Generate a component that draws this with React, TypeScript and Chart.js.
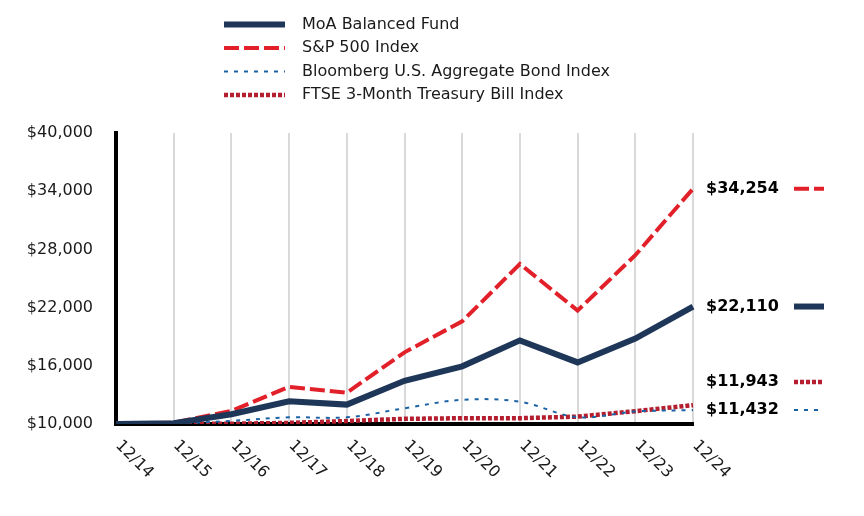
import React, { useEffect, useRef } from "react";
import { Chart, registerables } from "chart.js";

Chart.register(...registerables);

const categories = ["12/14", "12/15", "12/16", "12/17", "12/18", "12/19", "12/20", "12/21", "12/22", "12/23", "12/24"];
const moaFund = [10000, 10090, 11000, 12350, 12000, 14450, 15950, 18620, 16350, 18800, 22110];
const sp500 = [10000, 10138, 11351, 13829, 13223, 17387, 20586, 26496, 21698, 27402, 34254];
const bondIndex = [10000, 10055, 10321, 10687, 10688, 11620, 12492, 12300, 10700, 11292, 11432];
const tbillIndex = [10000, 10003, 10030, 10114, 10302, 10534, 10595, 10600, 10759, 11325, 11943];
const seriesNames = [
  "MoA Balanced Fund",
  "S&P 500 Index",
  "Bloomberg U.S. Aggregate Bond Index",
  "FTSE 3-Month Treasury Bill Index",
];
const yTicks = [10000, 16000, 22000, 28000, 34000, 40000];

const FONT = "'DejaVu Sans', Verdana, sans-serif";
const TEXT = "#1a1a1a";

const fmt = (v: number) => "$" + Math.round(v).toLocaleString("en-US");

function strokeSample(ctx: CanvasRenderingContext2D, ds: any, x1: number, x2: number, y: number) {
  ctx.save();
  ctx.strokeStyle = ds.borderColor;
  ctx.lineWidth = ds.borderWidth;
  ctx.setLineDash(ds.borderDash || []);
  ctx.lineCap = "butt";
  ctx.beginPath();
  ctx.moveTo(x1, y);
  ctx.lineTo(x2, y);
  ctx.stroke();
  ctx.restore();
}

const decorPlugin = {
  id: "decor",
  afterDraw(chart: any) {
    const ctx: CanvasRenderingContext2D = chart.ctx;
    const datasets = chart.data.datasets;
    // Legend
    const rowY = [24.5, 48, 71.5, 95];
    ctx.save();
    ctx.font = `16px ${FONT}`;
    ctx.fillStyle = TEXT;
    ctx.textBaseline = "middle";
    ctx.textAlign = "left";
    datasets.forEach((ds: any, i: number) => {
      strokeSample(ctx, ds, 224, 285, rowY[i]);
      ctx.fillText(ds.label, 302, rowY[i]);
    });
    ctx.restore();

    // X labels rotated clockwise
    const xs = chart.scales.x;
    ctx.save();
    ctx.font = `16px ${FONT}`;
    ctx.fillStyle = TEXT;
    ctx.textAlign = "left";
    ctx.textBaseline = "middle";
    categories.forEach((c, i) => {
      const x = xs.getPixelForValue(i);
      ctx.save();
      ctx.translate(x + 2, 443);
      ctx.rotate(Math.PI / 4);
      ctx.fillText(c, 0, 0);
      ctx.restore();
    });
    ctx.restore();

    // End value labels
    const ys = chart.scales.y;
    const items = datasets.map((ds: any) => {
      const v = ds.data[ds.data.length - 1];
      return { ds, v, y: ys.getPixelForValue(v) };
    });
    const sorted = [...items].sort((a, b) => b.y - a.y);
    for (let i = 1; i < sorted.length; i++) {
      if (sorted[i - 1].y - sorted[i].y < 28) sorted[i].y = sorted[i - 1].y - 28;
    }
    ctx.save();
    ctx.font = `bold 16px ${FONT}`;
    ctx.fillStyle = "#000";
    ctx.textAlign = "left";
    ctx.textBaseline = "middle";
    items.forEach((it: any) => {
      ctx.fillText(fmt(it.v), 706, it.y);
      strokeSample(ctx, it.ds, 794, 824, it.y);
    });
    ctx.restore();
  },
};

export default function App() {
  const ref = useRef<HTMLCanvasElement | null>(null);
  useEffect(() => {
    document.body.style.margin = "0";
    const chart = new Chart(ref.current as HTMLCanvasElement, {
      type: "line",
      data: {
        labels: categories,
        datasets: [
          {
            label: seriesNames[0],
            data: moaFund,
            borderColor: "#1e3658",
            borderWidth: 6,
            borderDash: [],
            pointRadius: 0,
            tension: 0,
          },
          {
            label: seriesNames[1],
            data: sp500,
            borderColor: "#e2202a",
            borderWidth: 4,
            borderDash: [15, 5],
            pointRadius: 0,
            tension: 0,
          },
          {
            label: seriesNames[2],
            data: bondIndex,
            borderColor: "#1b62a5",
            borderWidth: 2,
            borderDash: [4, 6],
            pointRadius: 0,
            tension: 0.35,
          },
          {
            label: seriesNames[3],
            data: tbillIndex,
            borderColor: "#b41e2e",
            borderWidth: 4.5,
            borderDash: [4, 2],
            pointRadius: 0,
            tension: 0,
          },
        ],
      },
      options: {
        responsive: false,
        animation: false,
        layout: { padding: { top: 133, right: 171, bottom: 0, left: 0 } },
        plugins: { legend: { display: false }, tooltip: { enabled: false } },
        scales: {
          x: {
            offset: false,
            grid: { color: "#d9d9d9", lineWidth: 2, drawTicks: false },
            border: { color: "#000", width: 4 },
            ticks: { display: false },
            afterFit: (s: any) => {
              s.height = 92;
            },
          },
          y: {
            min: 10000,
            max: 40000,
            grid: { display: false, drawTicks: false },
            border: { color: "#000", width: 4 },
            afterBuildTicks: (s: any) => {
              s.ticks = yTicks.map((v) => ({ value: v }));
            },
            ticks: {
              padding: 23,
              color: TEXT,
              font: { family: FONT, size: 16 },
              callback: (v: any) => fmt(Number(v)),
            },
            afterFit: (s: any) => {
              s.width = 116;
            },
          },
        },
      },
      plugins: [decorPlugin],
    });
    return () => chart.destroy();
  }, []);
  return (
    <div style={{ position: "absolute", left: 0, top: 0, width: 864, height: 516 }}>
      <canvas ref={ref} width={864} height={516} />
    </div>
  );
}
